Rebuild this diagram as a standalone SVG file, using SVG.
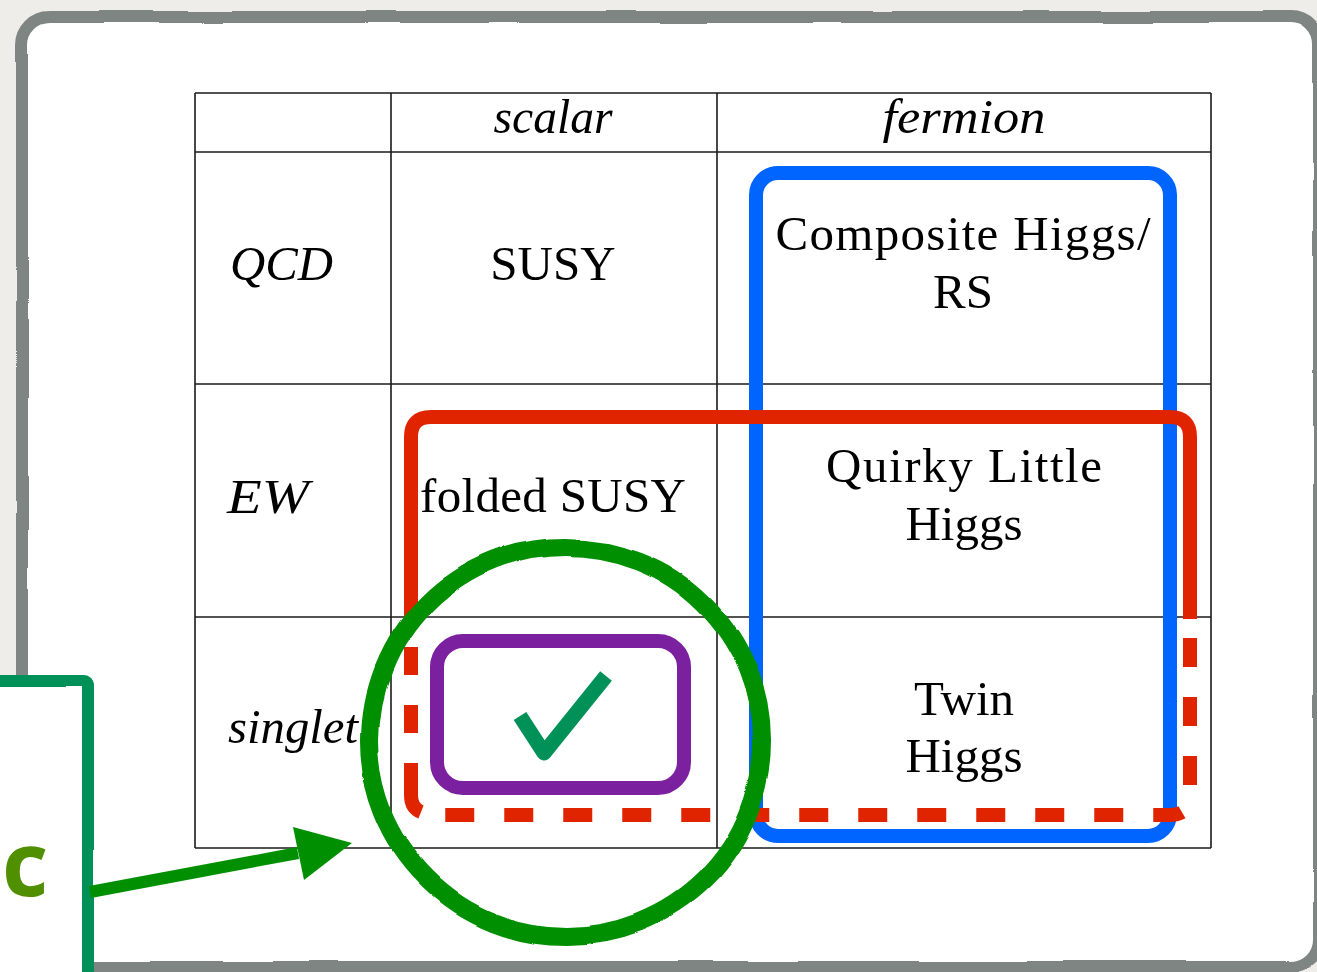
<svg xmlns="http://www.w3.org/2000/svg" width="1317" height="972" viewBox="0 0 1317 972">
<style>
.grid{stroke:#1a1a1a;stroke-width:1.6;fill:none}
.up{font-family:"Liberation Serif",serif;font-size:49px;fill:#000;text-anchor:middle}
.it{font-family:"Liberation Serif",serif;font-style:italic;font-size:49px;fill:#000}
.mid{text-anchor:middle}
</style>
<defs>
<filter id="rough" x="-5%" y="-5%" width="110%" height="110%">
<feTurbulence type="fractalNoise" baseFrequency="0.012" numOctaves="1" seed="4" result="n"/>
<feDisplacementMap in="SourceGraphic" in2="n" scale="4" xChannelSelector="R" yChannelSelector="G"/>
</filter>
<filter id="rough2" x="-10%" y="-10%" width="120%" height="120%">
<feTurbulence type="fractalNoise" baseFrequency="0.009" numOctaves="1" seed="11" result="n"/>
<feDisplacementMap in="SourceGraphic" in2="n" scale="10" xChannelSelector="R" yChannelSelector="G"/>
</filter>
</defs>
<rect x="0" y="0" width="1317" height="972" fill="#efede9"/>
<g id="frame">
<rect x="22" y="17" width="1297" height="950" rx="28" fill="#ffffff" stroke="#7f8582" stroke-width="12" filter="url(#rough)"/>
</g>
<g id="table">
<line class="grid" x1="195" y1="93" x2="1211" y2="93"/>
<line class="grid" x1="195" y1="152" x2="1211" y2="152"/>
<line class="grid" x1="195" y1="384" x2="1211" y2="384"/>
<line class="grid" x1="195" y1="617" x2="1211" y2="617"/>
<line class="grid" x1="195" y1="848" x2="1211" y2="848"/>
<line class="grid" x1="195" y1="93" x2="195" y2="848"/>
<line class="grid" x1="391" y1="93" x2="391" y2="848"/>
<line class="grid" x1="717" y1="93" x2="717" y2="848"/>
<line class="grid" x1="1211" y1="93" x2="1211" y2="848"/>
<text class="it mid" x="553" y="133" textLength="119" lengthAdjust="spacingAndGlyphs">scalar</text>
<text class="it mid" x="964" y="133" textLength="163" lengthAdjust="spacingAndGlyphs">fermion</text>
<text class="it" x="230" y="280" textLength="103" lengthAdjust="spacingAndGlyphs">QCD</text>
<text class="it" x="227" y="513" textLength="82" lengthAdjust="spacingAndGlyphs">EW</text>
<text class="it" x="228" y="743" textLength="130" lengthAdjust="spacingAndGlyphs">singlet</text>
<text class="up" x="553" y="280">SUSY</text>
<text class="up" x="963" y="250" textLength="375">Composite Higgs/</text>
<text class="up" x="963" y="308">RS</text>
<text class="up" x="553" y="512" textLength="266">folded SUSY</text>
<text class="up" x="964" y="482" textLength="276">Quirky Little</text>
<text class="up" x="964" y="540">Higgs</text>
<text class="up" x="964" y="715">Twin</text>
<text class="up" x="964" y="772">Higgs</text>
</g>
<g id="blue-box">
<rect x="756" y="173" width="414" height="663" rx="22" fill="none" stroke="#0064ff" stroke-width="14"/>
</g>
<g id="red-box" fill="none" stroke="#e12400" stroke-width="14">
<path d="M411,617 L411,437 Q411,417 431,417 L1170,417 Q1190,417 1190,437 L1190,619"/>
<path d="M1190,638 L1190,795 Q1190,815 1170,815 L443,815" stroke-dasharray="29 30"/>
<path d="M411,647 L411,795 Q411,808 421,812" stroke-dasharray="28 30 28 30 60"/>
</g>
<g id="purple-box">
<rect x="437" y="641" width="247" height="147" rx="26" fill="none" stroke="#7b21a0" stroke-width="14"/>
</g>
<g id="check">
<path d="M520,716 L544,753 L606,676" fill="none" stroke="#009158" stroke-width="15" stroke-linejoin="round"/>
</g>
<g id="green-circle">
<ellipse cx="566" cy="741" rx="196" ry="194" fill="none" stroke="#008f00" stroke-width="18" filter="url(#rough2)"/>
</g>
<g id="side-box">
<rect x="-30" y="681" width="118" height="330" rx="4" fill="#ffffff" stroke="#009158" stroke-width="12" filter="url(#rough)"/>
<text x="2" y="896" font-family="'Open Sans',sans-serif" font-weight="bold" font-size="90" fill="#4f8f00">c</text>
</g>
<g id="connectors">
<line x1="90" y1="892" x2="298" y2="853" stroke="#008f00" stroke-width="12"/>
<path d="M293,827 L352,843 L304,880 z" fill="#008f00"/>
</g>
</svg>
